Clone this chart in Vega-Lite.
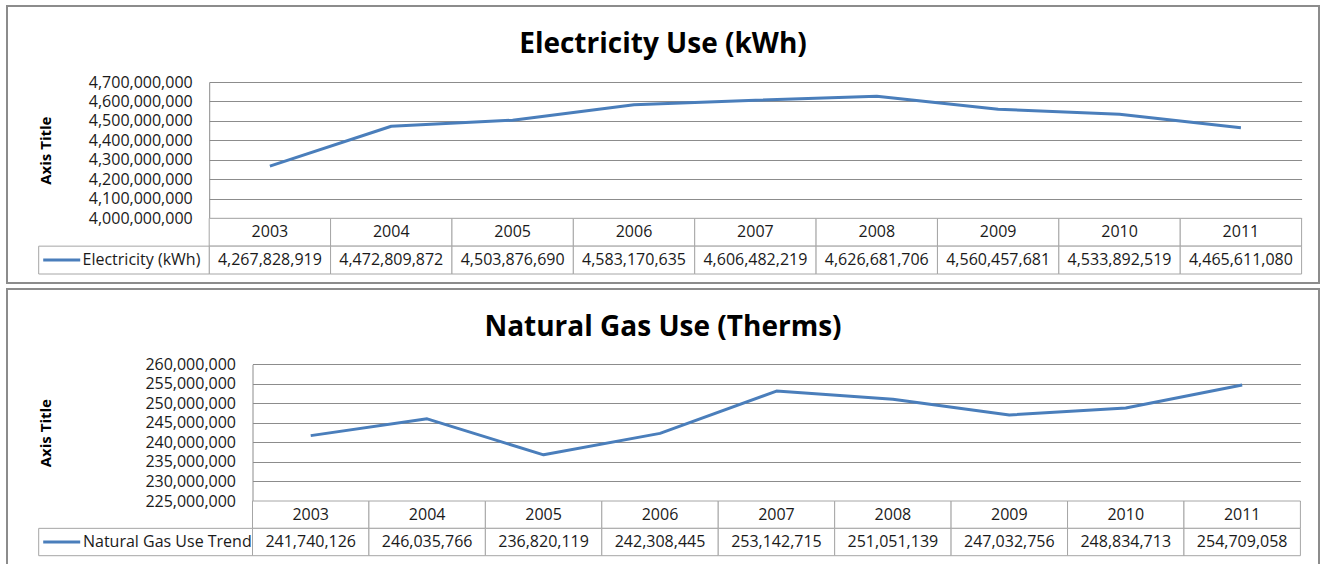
{
  "$schema": "https://vega.github.io/schema/vega-lite/v6.json",
  "padding": {"left": 6, "top": 5, "right": 0, "bottom": 0},
  "background": "white",
  "config": {"view": {"stroke": "#8c8c8c", "strokeWidth": 2}, "font": "Open Sans"},
  "datasets": {
    "elec": [
      {"year": "2003", "value": 4267828919},
      {"year": "2004", "value": 4472809872},
      {"year": "2005", "value": 4503876690},
      {"year": "2006", "value": 4583170635},
      {"year": "2007", "value": 4606482219},
      {"year": "2008", "value": 4626681706},
      {"year": "2009", "value": 4560457681},
      {"year": "2010", "value": 4533892519},
      {"year": "2011", "value": 4465611080}
    ],
    "gas": [
      {"year": "2003", "value": 241740126},
      {"year": "2004", "value": 246035766},
      {"year": "2005", "value": 236820119},
      {"year": "2006", "value": 242308445},
      {"year": "2007", "value": 253142715},
      {"year": "2008", "value": 251051139},
      {"year": "2009", "value": 247032756},
      {"year": "2010", "value": 248834713},
      {"year": "2011", "value": 254709058}
    ],
    "elecLabel": [{"series": "Electricity (kWh)"}],
    "gasLabel": [{"series": "Natural Gas Use Trend"}]
  },
  "spacing": 6,
  "bounds": "flush",
  "vconcat": [
    {
      "width": 1312,
      "height": 277,
      "title": {"text": "Electricity Use (kWh)", "font": "Open Sans", "fontSize": 28, "fontWeight": "bold", "color": "#000000", "anchor": "middle", "frame": "group", "baseline": "alphabetic", "offset": -75},
      "resolve": {"scale": {"x": "independent", "y": "independent"}},
      "layer": [
        {
          "data": {"name": "elec"},
          "encoding": {
            "x": {"field": "year", "type": "ordinal", "scale": {"type": "band", "range": [202.2, 1294.6], "paddingInner": 0, "paddingOuter": 0}, "axis": null},
            "y": {"datum": "value", "type": "nominal", "scale": {"type": "band", "domain": ["header", "value"], "range": [212.3, 268], "paddingInner": 0, "paddingOuter": 0}, "axis": null}
          },
          "layer": [
            {"mark": {"type": "rect", "fill": "white", "stroke": "#a6a6a6", "strokeWidth": 1}, "encoding": {"y": {"datum": "header", "type": "nominal"}}},
            {"mark": {"type": "rect", "fill": "white", "stroke": "#a6a6a6", "strokeWidth": 1}, "encoding": {"y": {"datum": "value", "type": "nominal"}}},
            {"mark": {"type": "text", "baseline": "middle", "fontSize": 16, "color": "#1a1a1a"}, "encoding": {"y": {"datum": "header", "type": "nominal"}, "text": {"field": "year"}}},
            {"mark": {"type": "text", "baseline": "middle", "fontSize": 16, "color": "#1a1a1a"}, "encoding": {"y": {"datum": "value", "type": "nominal"}, "text": {"field": "value", "format": ",d"}}}
          ]
        },
        {
          "data": {"name": "elecLabel"},
          "encoding": {
            "x": {"field": "series", "type": "nominal", "scale": {"type": "band", "range": [31.7, 202.2], "paddingInner": 0, "paddingOuter": 0}, "axis": null},
            "y": {"datum": "value", "type": "nominal", "scale": {"type": "band", "domain": ["header", "value"], "range": [212.3, 268], "paddingInner": 0, "paddingOuter": 0}, "axis": null}
          },
          "layer": [
            {"mark": {"type": "rect", "fill": "white", "stroke": "#a6a6a6", "strokeWidth": 1}},
            {"mark": {"type": "point", "shape": "stroke", "size": 1369, "strokeWidth": 3, "color": "#4a7ebb", "filled": false, "opacity": 1}, "encoding": {"x": {"field": "series", "type": "nominal", "bandPosition": 0.135}}},
            {"mark": {"type": "text", "align": "left", "baseline": "middle", "fontSize": 16, "color": "#1a1a1a"}, "encoding": {"x": {"field": "series", "type": "nominal", "bandPosition": 0.257}, "text": {"field": "series"}}}
          ]
        },
        {
          "data": {"name": "elec"},
          "mark": {"type": "line", "color": "#4a7ebb", "strokeWidth": 3, "strokeJoin": "round"},
          "encoding": {
            "x": {"field": "year", "type": "ordinal", "scale": {"type": "point", "range": [202.2, 1294.6], "padding": 0.5}, "axis": null},
            "y": {"field": "value", "type": "quantitative",
              "scale": {"domain": [4000000000, 4700000000], "range": [212.3, 76], "zero": false, "nice": false},
              "axis": {"title": "Axis Title", "titleFont": "Open Sans", "titleFontSize": 15, "titleFontWeight": "bold", "titleColor": "#000000", "titleX": -159.2, "titleBaseline": "alphabetic",
                "values": [4000000000, 4100000000, 4200000000, 4300000000, 4400000000, 4500000000, 4600000000, 4700000000],
                "format": ",d", "labelFont": "Open Sans", "labelFontSize": 16, "labelColor": "#1a1a1a", "labelPadding": 17, "labelFlush": false, "labelOverlap": false, "labelBound": false,
                "ticks": false, "domain": true, "domainColor": "#8c8c8c", "domainWidth": 1,
                "grid": true, "gridColor": "#8c8c8c", "gridWidth": 1, "offset": -202.2}
            }
          }
        }
      ]
    },
    {
      "width": 1312,
      "height": 276,
      "title": {"text": "Natural Gas Use (Therms)", "font": "Open Sans", "fontSize": 28, "fontWeight": "bold", "color": "#000000", "anchor": "middle", "frame": "group", "baseline": "alphabetic", "offset": -75},
      "resolve": {"scale": {"x": "independent", "y": "independent"}},
      "layer": [
        {
          "data": {"name": "gas"},
          "encoding": {
            "x": {"field": "year", "type": "ordinal", "scale": {"type": "band", "range": [245.5, 1293.4], "paddingInner": 0, "paddingOuter": 0}, "axis": null},
            "y": {"datum": "value", "type": "nominal", "scale": {"type": "band", "domain": ["header", "value"], "range": [212, 266.7], "paddingInner": 0, "paddingOuter": 0}, "axis": null}
          },
          "layer": [
            {"mark": {"type": "rect", "fill": "white", "stroke": "#a6a6a6", "strokeWidth": 1}, "encoding": {"y": {"datum": "header", "type": "nominal"}}},
            {"mark": {"type": "rect", "fill": "white", "stroke": "#a6a6a6", "strokeWidth": 1}, "encoding": {"y": {"datum": "value", "type": "nominal"}}},
            {"mark": {"type": "text", "baseline": "middle", "fontSize": 16, "color": "#1a1a1a"}, "encoding": {"y": {"datum": "header", "type": "nominal"}, "text": {"field": "year"}}},
            {"mark": {"type": "text", "baseline": "middle", "fontSize": 16, "color": "#1a1a1a"}, "encoding": {"y": {"datum": "value", "type": "nominal"}, "text": {"field": "value", "format": ",d"}}}
          ]
        },
        {
          "data": {"name": "gasLabel"},
          "encoding": {
            "x": {"field": "series", "type": "nominal", "scale": {"type": "band", "range": [31.7, 245.5], "paddingInner": 0, "paddingOuter": 0}, "axis": null},
            "y": {"datum": "value", "type": "nominal", "scale": {"type": "band", "domain": ["header", "value"], "range": [212, 266.7], "paddingInner": 0, "paddingOuter": 0}, "axis": null}
          },
          "layer": [
            {"mark": {"type": "rect", "fill": "white", "stroke": "#a6a6a6", "strokeWidth": 1}},
            {"mark": {"type": "point", "shape": "stroke", "size": 1369, "strokeWidth": 3, "color": "#4a7ebb", "filled": false, "opacity": 1}, "encoding": {"x": {"field": "series", "type": "nominal", "bandPosition": 0.1076}}},
            {"mark": {"type": "text", "align": "left", "baseline": "middle", "fontSize": 16, "color": "#1a1a1a"}, "encoding": {"x": {"field": "series", "type": "nominal", "bandPosition": 0.207}, "text": {"field": "series"}}}
          ]
        },
        {
          "data": {"name": "gas"},
          "mark": {"type": "line", "color": "#4a7ebb", "strokeWidth": 3, "strokeJoin": "round"},
          "encoding": {
            "x": {"field": "year", "type": "ordinal", "scale": {"type": "point", "range": [245.5, 1293.4], "padding": 0.5}, "axis": null},
            "y": {"field": "value", "type": "quantitative",
              "scale": {"domain": [225000000, 260000000], "range": [212, 75.3], "zero": false, "nice": false},
              "axis": {"title": "Axis Title", "titleFont": "Open Sans", "titleFontSize": 15, "titleFontWeight": "bold", "titleColor": "#000000", "titleX": -202.5, "titleBaseline": "alphabetic",
                "values": [225000000, 230000000, 235000000, 240000000, 245000000, 250000000, 255000000, 260000000],
                "format": ",d", "labelFont": "Open Sans", "labelFontSize": 16, "labelColor": "#1a1a1a", "labelPadding": 17, "labelFlush": false, "labelOverlap": false, "labelBound": false,
                "ticks": false, "domain": true, "domainColor": "#8c8c8c", "domainWidth": 1,
                "grid": true, "gridColor": "#8c8c8c", "gridWidth": 1, "offset": -245.5}
            }
          }
        }
      ]
    }
  ]
}
